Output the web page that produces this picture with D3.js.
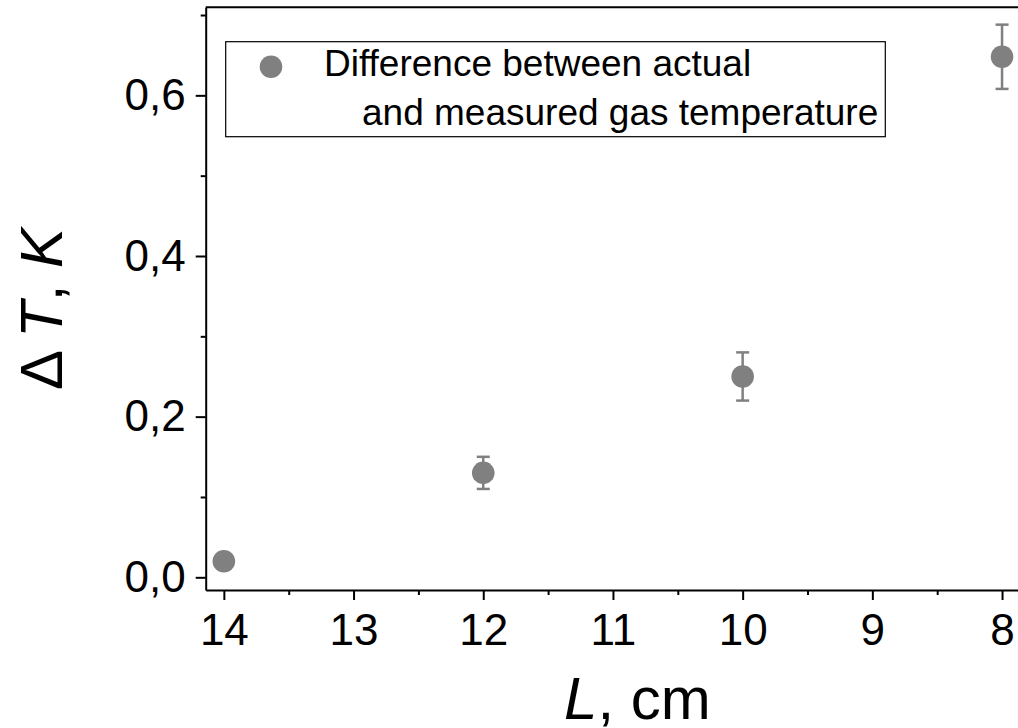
<!DOCTYPE html>
<html>
<head>
<meta charset="utf-8">
<script src="https://cdn.jsdelivr.net/npm/d3@7"></script>
<style>
  html, body { margin: 0; padding: 0; background: #fff; }
  svg { display: block; }
  text { font-family: "Liberation Sans", Arial, sans-serif; fill: #000; }
</style>
</head>
<body>
<svg id="chart" width="1018" height="728"></svg>
<script>
// ---- data ----
const lengthsCm = [14, 12, 10, 8];
const deltaT = [0.02, 0.13, 0.25, 0.648];
const deltaTErr = [0.0, 0.02, 0.03, 0.04];
const xTickValues = [14, 13, 12, 11, 10, 9, 8];
const xMinorTicks = [13.5, 12.5, 11.5, 10.5, 9.5, 8.5];
const yTickValues = [0, 0.2, 0.4, 0.6];
const yTickLabels = ["0,0", "0,2", "0,4", "0,6"];
const yMinorTicks = [0.1, 0.3, 0.5, 0.7];
const legendLines = ["Difference between actual", "and measured gas temperature"];
const xTitleItalic = "L";
const xTitleRest = ", cm";
const yTitleParts = ["\u0394", "T", ", ", "K"];

// ---- layout ----
const plotLeft = 205.7, plotRight = 1021.5, plotTop = 7.3, plotBottom = 590;
const svg = d3.select("#chart");

const x = d3.scaleLinear().domain([14.14, 7.85]).range([plotLeft, plotRight]);
const y = d3.scaleLinear().domain([-0.0158, 0.7096]).range([plotBottom, plotTop]);

const markerColor = "#808080";

// frame: top line
svg.append("line")
  .attr("x1", plotLeft).attr("x2", plotRight)
  .attr("y1", plotTop).attr("y2", plotTop)
  .attr("stroke", "#000").attr("stroke-width", 2);

// x axis
const xAxis = d3.axisBottom(x)
  .tickValues(xTickValues)
  .tickFormat(d3.format("d"))
  .tickSizeInner(10).tickSizeOuter(0).tickPadding(14);
const gx = svg.append("g").attr("transform", `translate(0,${plotBottom})`).call(xAxis);
gx.select(".domain").attr("stroke", "#000").attr("stroke-width", 2);
gx.selectAll(".tick line").attr("stroke", "#000").attr("stroke-width", 2);
gx.selectAll(".tick text").style("font-size", "44px").style("font-family", "'Liberation Sans', Arial, sans-serif").attr("fill", "#000");
const xMinor = d3.axisBottom(x).tickValues(xMinorTicks).tickSize(5).tickFormat("");
const gxm = svg.append("g").attr("transform", `translate(0,${plotBottom})`).call(xMinor);
gxm.select(".domain").remove();
gxm.selectAll(".tick line").attr("stroke", "#000").attr("stroke-width", 2);

// y axis
const yAxis = d3.axisLeft(y)
  .tickValues(yTickValues)
  .tickFormat((d, i) => yTickLabels[i])
  .tickSizeInner(10).tickSizeOuter(0).tickPadding(10);
const gy = svg.append("g").attr("transform", `translate(${plotLeft},0)`).call(yAxis);
gy.select(".domain").attr("stroke", "#000").attr("stroke-width", 2);
gy.selectAll(".tick line").attr("stroke", "#000").attr("stroke-width", 2);
gy.selectAll(".tick text").style("font-size", "44px").style("font-family", "'Liberation Sans', Arial, sans-serif").attr("fill", "#000");
const yMinor = d3.axisLeft(y).tickValues(yMinorTicks).tickSize(5).tickFormat("");
const gym = svg.append("g").attr("transform", `translate(${plotLeft},0)`).call(yMinor);
gym.select(".domain").remove();
gym.selectAll(".tick line").attr("stroke", "#000").attr("stroke-width", 2);

// data: error bars + points
const pts = lengthsCm.map((L, i) => ({L, v: deltaT[i], e: deltaTErr[i]}));
const eb = svg.append("g").attr("stroke", markerColor).attr("stroke-width", 2.5);
pts.filter(d => d.e > 0).forEach(d => {
  const cx = x(d.L);
  eb.append("line").attr("x1", cx).attr("x2", cx).attr("y1", y(d.v + d.e)).attr("y2", y(d.v - d.e));
  eb.append("line").attr("x1", cx - 6.5).attr("x2", cx + 6.5).attr("y1", y(d.v + d.e)).attr("y2", y(d.v + d.e));
  eb.append("line").attr("x1", cx - 6.5).attr("x2", cx + 6.5).attr("y1", y(d.v - d.e)).attr("y2", y(d.v - d.e));
});
svg.append("g").selectAll("circle").data(pts).join("circle")
  .attr("cx", d => x(d.L)).attr("cy", d => y(d.v)).attr("r", 11.3)
  .attr("fill", markerColor);

// legend
const lg = svg.append("g");
lg.append("rect").attr("x", 225.7).attr("y", 41.7).attr("width", 659.6).attr("height", 95)
  .attr("fill", "#fff").attr("stroke", "#000").attr("stroke-width", 1.2);
lg.append("circle").attr("cx", 271).attr("cy", 66.7).attr("r", 11.3).attr("fill", markerColor);
lg.append("text").attr("x", 324).attr("y", 76).style("font-size", "37px").text(legendLines[0]);
lg.append("text").attr("x", 362).attr("y", 125).style("font-size", "37px").text(legendLines[1]);

// x title
const xt = svg.append("text").attr("x", 564).attr("y", 719).style("font-size", "60px");
xt.append("tspan").style("font-style", "italic").text(xTitleItalic);
xt.append("tspan").text(xTitleRest);

// y title
const yt = svg.append("text")
  .attr("transform", "translate(62,309) rotate(-90)")
  .attr("text-anchor", "middle").style("font-size", "60px");
yt.append("tspan").text(yTitleParts[0] + "\u2009");
yt.append("tspan").style("font-style", "italic").text(yTitleParts[1]);
yt.append("tspan").text(yTitleParts[2]);
yt.append("tspan").style("font-style", "italic").text(yTitleParts[3]);
</script>
</body>
</html>
